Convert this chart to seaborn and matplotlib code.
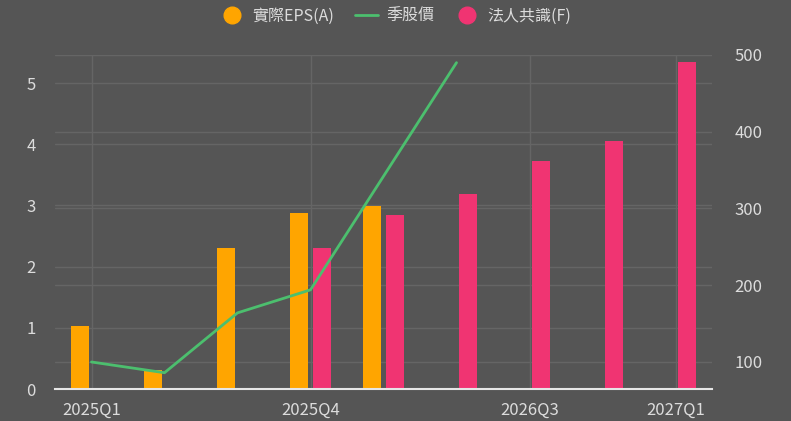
import numpy as np
import pandas as pd
import seaborn as sns
import matplotlib.pyplot as plt
from matplotlib.lines import Line2D

# quarters and values
quarters = ['2025Q1', '2025Q2', '2025Q3', '2025Q4', '2026Q1',
            '2026Q2', '2026Q3', '2026Q4', '2027Q1']
eps_actual = [1.03, 0.31, 2.30, 2.88, 2.99, np.nan, np.nan, np.nan, np.nan]
eps_consensus = [np.nan, np.nan, np.nan, 2.30, 2.84, 3.19, 3.73, 4.05, 5.34]
price = [100, 86, 164, 194, 342, 490, np.nan, np.nan, np.nan]
shown_ticks = ['2025Q1', '2025Q4', '2026Q3', '2027Q1']
price_ticks = [100, 200, 300, 400, 500]

bg = '#555555'
txt = '#dcdcdc'
grid = '#656565'
orange = '#ffa500'
pink = '#f03472'
green = '#4cbf6e'

df = pd.DataFrame({
    'quarter': quarters * 2,
    'eps': eps_actual + eps_consensus,
    'kind': ['實際EPS(A)'] * len(quarters) + ['法人共識(F)'] * len(quarters),
})
price_df = pd.DataFrame({'pos': np.arange(len(quarters)), 'price': price})

eps_top = 5.46
price_lim = (64.8, 500)

sns.set_theme(style='dark')
plt.rcParams['font.family'] = ['Noto Sans CJK TC', 'DejaVu Sans']

fig = plt.figure(figsize=(7.91, 4.21), dpi=100, facecolor=bg)
ax = fig.add_axes([55 / 791, 32 / 421, 657 / 791, 334 / 421])
ax.set_facecolor(bg)

sns.barplot(data=df, x='quarter', y='eps', hue='kind', order=quarters,
            palette=[orange, pink], saturation=1, width=0.63, gap=0.22,
            linewidth=0, ax=ax, legend=False, zorder=3)
ax.set_xlim(-0.5, len(quarters) - 0.5)
ax.set_ylim(0, eps_top)
ax.set_yticks([0, 1, 2, 3, 4, 5])
ax.set_xticks([quarters.index(q) for q in shown_ticks])
ax.set_xticklabels(shown_ticks)
ax.set_xlabel('')
ax.set_ylabel('')
ax.grid(True, axis='both', color=grid, linewidth=1, zorder=0)
ax.set_axisbelow(True)
# right-axis gridlines drawn on the left axes so they stay behind the bars
for v in price_ticks:
    ax.axhline((v - price_lim[0]) / (price_lim[1] - price_lim[0]) * eps_top,
               color=grid, linewidth=1, zorder=0)
ax.tick_params(length=0, colors=txt, labelsize=12)
ax.tick_params(axis='y', pad=14)
ax.tick_params(axis='x', pad=9)
for s in ['top', 'right', 'left']:
    ax.spines[s].set_visible(False)
ax.spines['bottom'].set_color('#e6e6e6')
ax.spines['bottom'].set_linewidth(1.5)
ax.spines['bottom'].set_zorder(4)

ax2 = ax.twinx()
sns.lineplot(data=price_df, x='pos', y='price', color=green, linewidth=2,
             ax=ax2, zorder=5)
ax2.set_ylim(*price_lim)
ax2.set_yticks(price_ticks)
ax2.set_xlim(-0.5, len(quarters) - 0.5)
ax2.set_ylabel('')
ax2.set_xlabel('')
ax2.grid(False)
ax2.tick_params(length=0, colors=txt, labelsize=12, pad=16)
for s in ax2.spines.values():
    s.set_visible(False)

handles = [
    Line2D([], [], marker='o', linestyle='', markersize=12, color=orange),
    Line2D([], [], color=green, linewidth=2),
    Line2D([], [], marker='o', linestyle='', markersize=12, color=pink),
]
fig.legend(handles, ['實際EPS(A)', '季股價', '法人共識(F)'], loc='center',
           bbox_to_anchor=(0.5, 0.962), ncol=3, frameon=False,
           labelcolor=txt, fontsize=11.5, handlelength=1.5,
           handletextpad=0.5, columnspacing=1.3)

fig.savefig('out.png', dpi=100, facecolor=bg)
